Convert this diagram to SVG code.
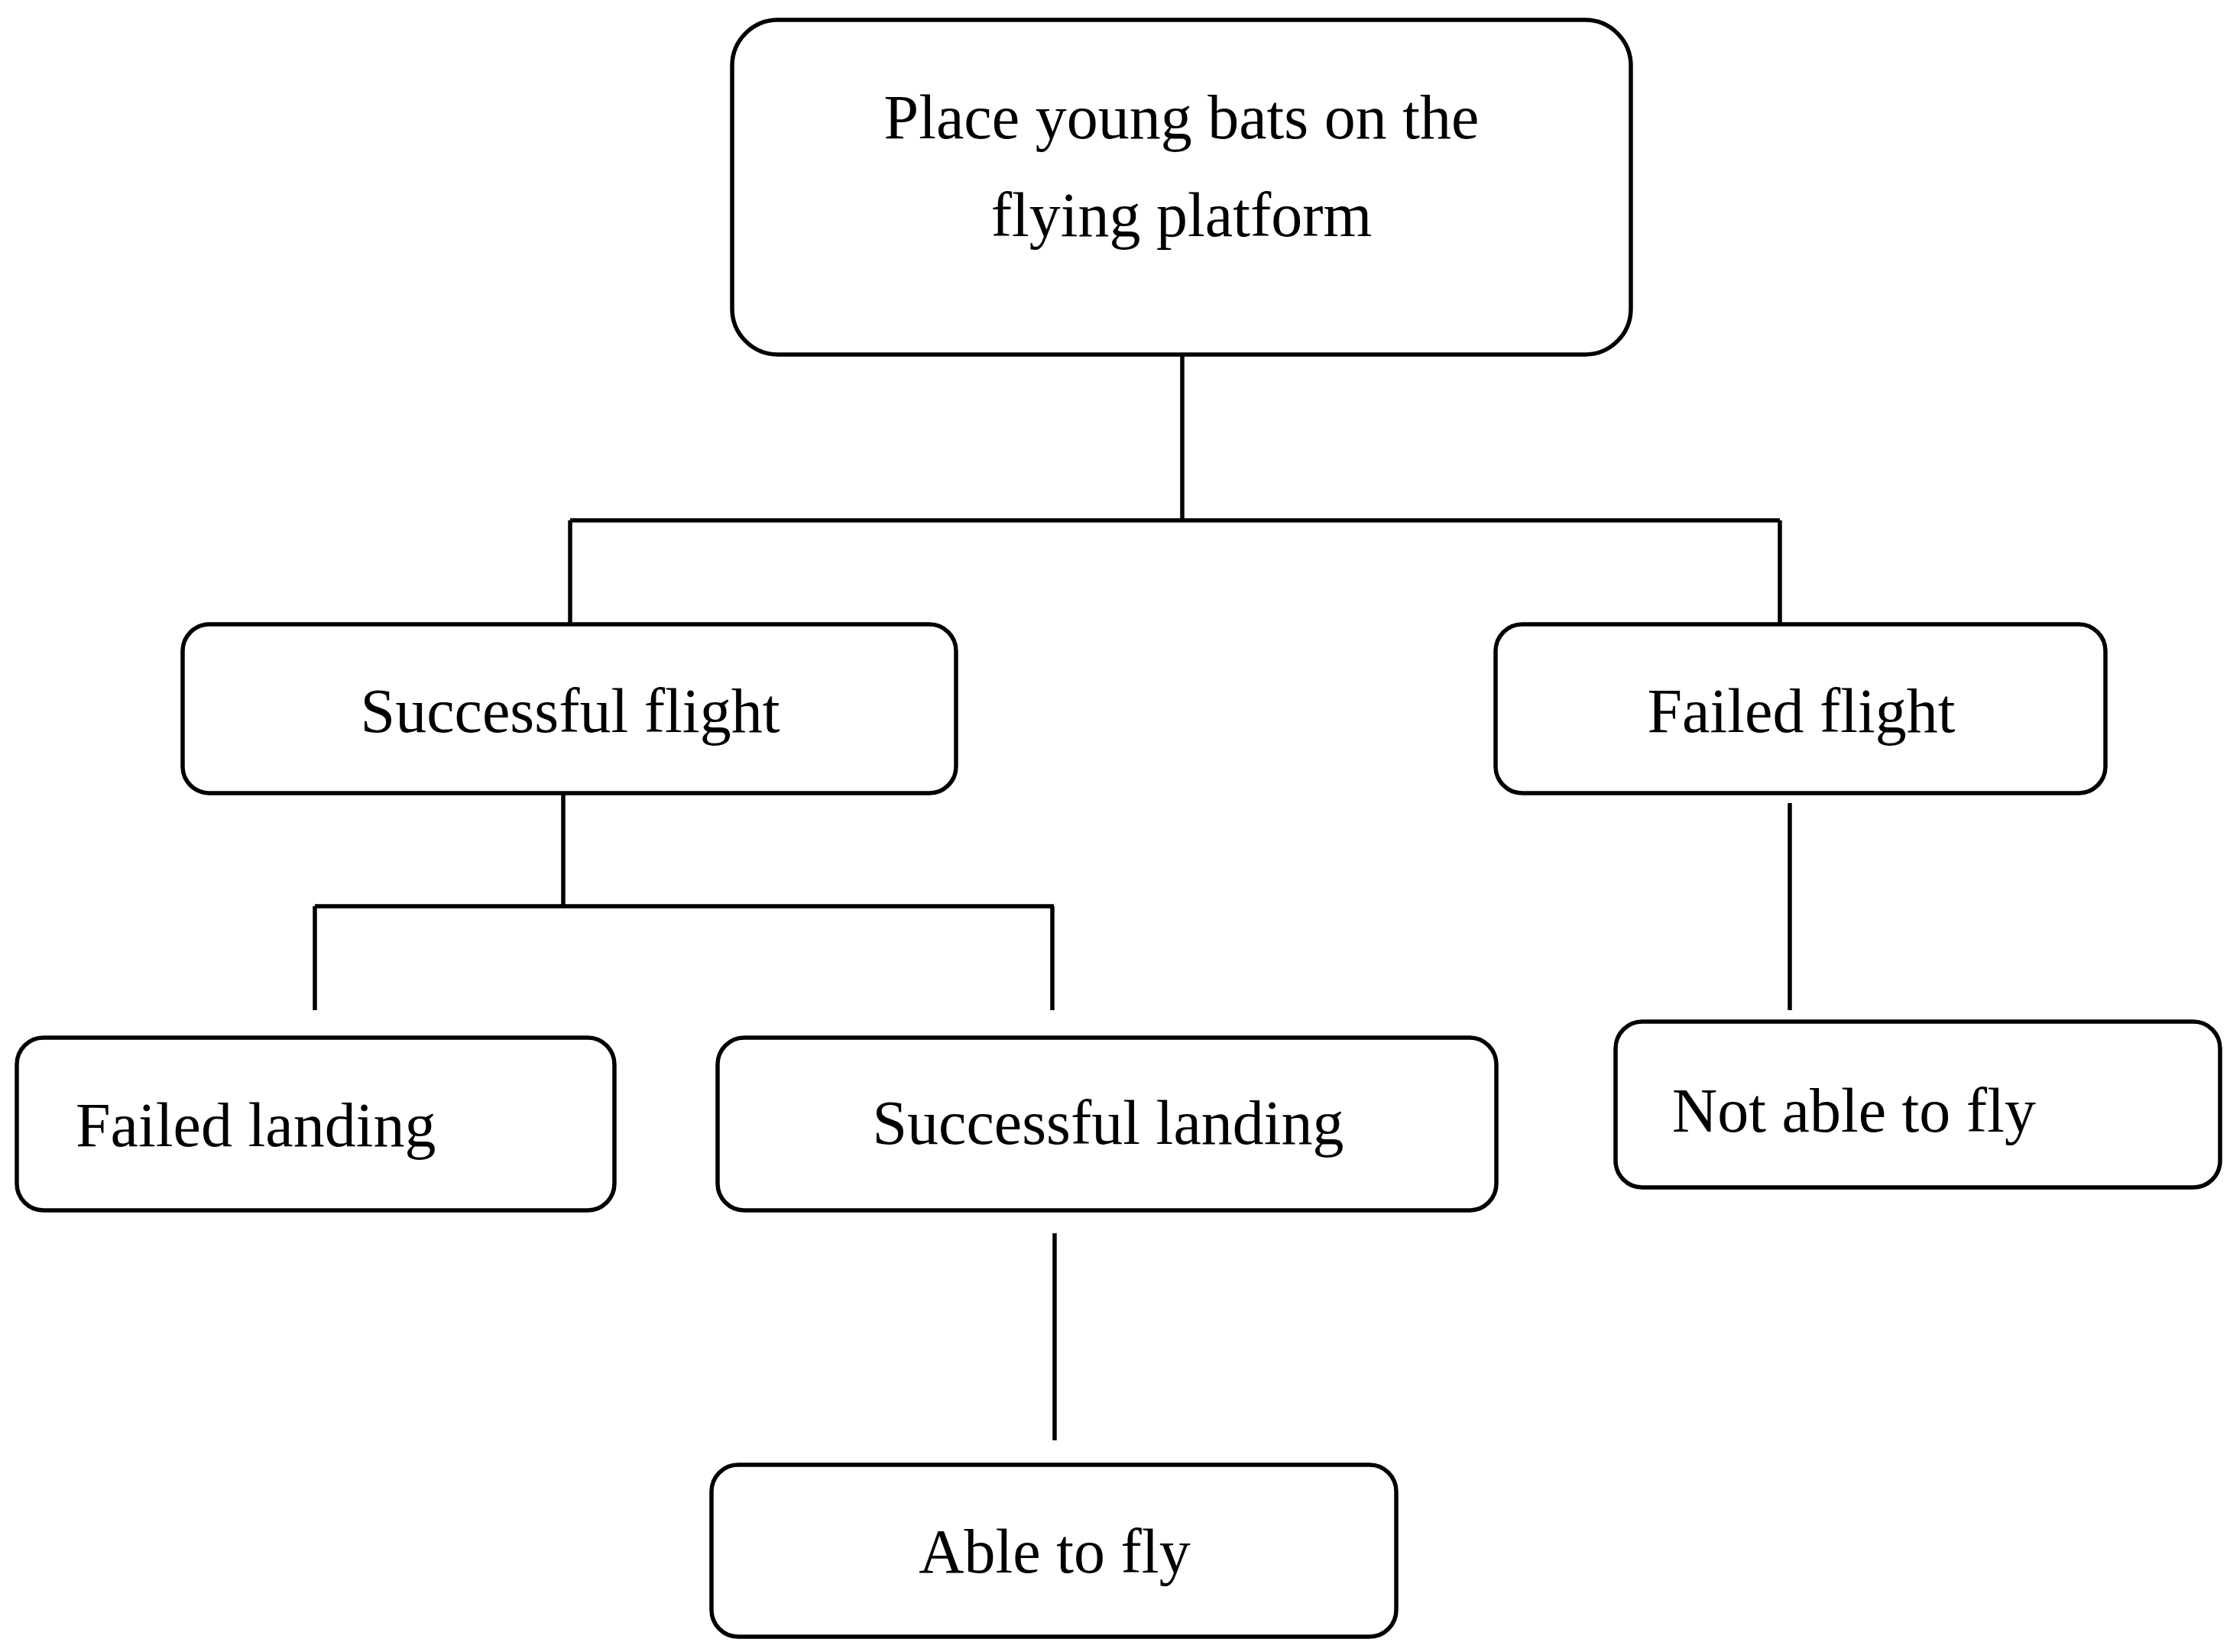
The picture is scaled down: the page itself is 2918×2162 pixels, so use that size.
<svg xmlns="http://www.w3.org/2000/svg" width="2918" height="2162" viewBox="0 0 2918 2162">
<style>
.b{fill:#fff;stroke:#000;stroke-width:5.5}
.t{font-family:"Liberation Serif","Times New Roman",serif;font-size:82px;fill:#000}
.c{text-anchor:middle}
.l{stroke:#000;stroke-width:5.5;fill:none}
</style>
<rect width="2918" height="2162" fill="#fff"/>
<g id="connectors" class="l">
<path d="M1547 464V681M746 681H2329M746 681V817M2329 681V817"/>
<path d="M737 1038V1186M412 1186H1379M412 1186V1322M1377 1186V1322"/>
<path d="M2342 1051V1322"/>
<path d="M1380 1614V1885"/>
</g>
<g id="root"><rect class="b" x="958" y="26" width="1176" height="438" rx="60"/>
<text class="t c" x="1546" y="181">Place young bats on the</text>
<text class="t c" x="1546" y="309">flying platform</text></g>
<g id="sflight"><rect class="b" x="239" y="817" width="1012" height="221" rx="35"/>
<text class="t c" x="746" y="958">Successful flight</text></g>
<g id="fflight"><rect class="b" x="1957" y="817" width="798" height="221" rx="35"/>
<text class="t c" x="2357" y="958">Failed flight</text></g>
<g id="flanding"><rect class="b" x="22" y="1358" width="782" height="226" rx="35"/>
<text class="t" x="99" y="1500">Failed landing</text></g>
<g id="slanding"><rect class="b" x="939" y="1358" width="1019" height="226" rx="35"/>
<text class="t c" x="1450" y="1497">Successful landing</text></g>
<g id="notable"><rect class="b" x="2114" y="1337" width="791" height="217" rx="35"/>
<text class="t" x="2188" y="1481">Not able to fly</text></g>
<g id="able"><rect class="b" x="931" y="1917" width="896" height="225" rx="35"/>
<text class="t c" x="1380" y="2058">Able to fly</text></g>
</svg>
